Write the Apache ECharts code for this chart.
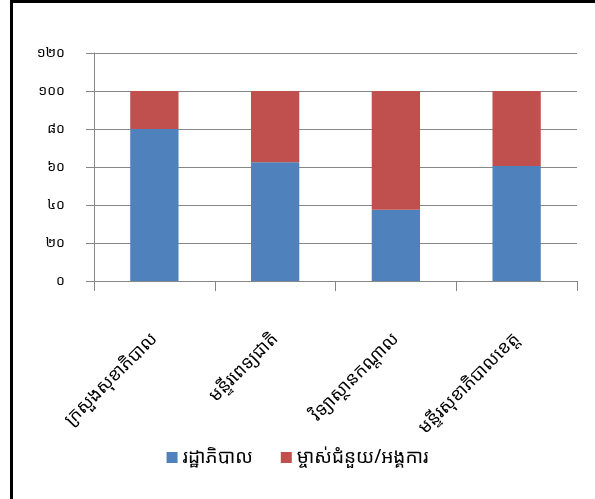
<!DOCTYPE html>
<html>
<head>
<meta charset="utf-8">
<script src="https://cdn.jsdelivr.net/npm/echarts@6/dist/echarts.min.js"></script>
<style>
  html, body { margin: 0; padding: 0; background: #fff; }
  #frame {
    position: absolute; left: 10px; top: 0; width: 585px; height: 499px;
    border-left: 3px solid #000; border-top: 3px solid #000;
    box-sizing: border-box;
  }
  #chart { position: absolute; left: 0; top: 0; width: 595px; height: 499px; }
</style>
</head>
<body>
<div id="frame"></div>
<div id="chart"></div>
<script>
// 类别
var categories = ['ក្រសួងសុខាភិបាល', 'មន្ទីរពេទ្យជាតិ', 'វិទ្យាស្ថានកណ្តាល', 'មន្ទីរសុខាភិបាលខេត្ត'];
// 系列名
var seriesNames = ['រដ្ឋាភិបាល', 'ម្ចាស់ជំនួយ/អង្គការ'];
// 数值
var govValues = [80, 62.5, 37.5, 60.5];
var donorValues = [20, 37.5, 62.5, 39.5];
// y轴刻度文字 (0,20,...,120)
var yTickLabels = ['០', '២០', '៤០', '៦០', '៨០', '១០០', '១២០'];

var khFont = "'Khmer OS', 'Noto Sans Khmer', 'DejaVu Sans', sans-serif";

var chart = echarts.init(document.getElementById('chart'));
var option = {
  animation: false,
  color: ['#4F81BD', '#C0504D'],
  grid: { left: 94, right: 18, top: 53, bottom: 218 },
  legend: {
    data: seriesNames,
    bottom: 27,
    left: 'center',
    itemWidth: 11,
    itemHeight: 11,
    itemGap: 28,
    icon: 'rect',
    textStyle: { fontFamily: khFont, fontSize: 19, color: '#000' }
  },
  xAxis: {
    type: 'category',
    data: categories,
    axisLine: { lineStyle: { color: '#868686' } },
    axisTick: { show: true, length: 10, lineStyle: { color: '#868686' } },
    axisLabel: {
      rotate: 45,
      margin: 55,
      interval: 0,
      fontFamily: khFont,
      fontSize: 18,
      color: '#000'
    }
  },
  yAxis: {
    type: 'value',
    min: 0,
    max: 120,
    interval: 20,
    axisLine: { show: true, lineStyle: { color: '#868686' } },
    axisTick: { show: true, length: 8, lineStyle: { color: '#868686' } },
    splitLine: { lineStyle: { color: '#868686' } },
    axisLabel: {
      margin: 29,
      fontFamily: khFont,
      fontSize: 14,
      color: '#000',
      formatter: function (v) { return yTickLabels[Math.round(v / 20)]; }
    }
  },
  series: [
    {
      name: seriesNames[0],
      type: 'bar',
      stack: 'total',
      barWidth: '40%',
      data: govValues
    },
    {
      name: seriesNames[1],
      type: 'bar',
      stack: 'total',
      barWidth: '40%',
      data: donorValues
    }
  ]
};
chart.setOption(option);
</script>
</body>
</html>
